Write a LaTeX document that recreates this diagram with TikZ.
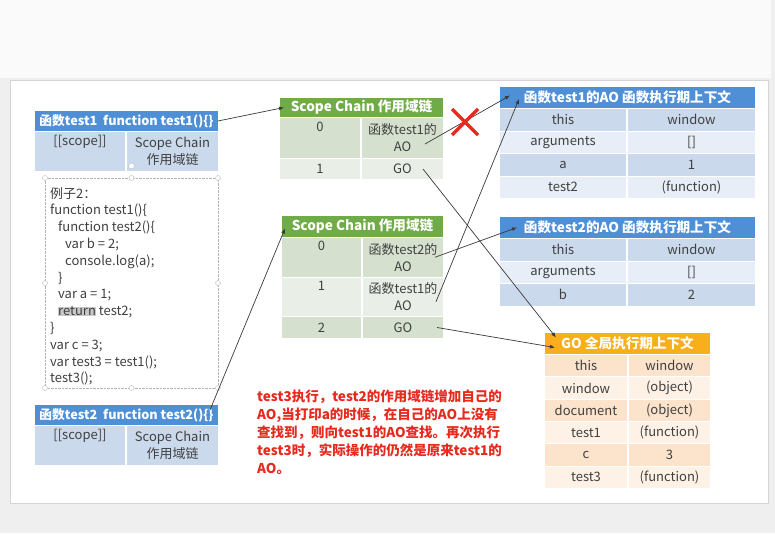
\documentclass[tikz,border=0pt]{standalone}
\usepackage{fontspec}
\setmainfont{Noto Sans CJK SC}
\usetikzlibrary{positioning,arrows.meta}
\definecolor{PageGray}{HTML}{EFEFEF}
\definecolor{TopWhite}{HTML}{FAFAFA}
\definecolor{FrameGray}{HTML}{D4D4D4}
\definecolor{HeadBlue}{HTML}{4E8FD6}
\definecolor{BlueDark}{HTML}{CBD9EC}
\definecolor{BlueLite}{HTML}{E7EEF7}
\definecolor{HeadGreen}{HTML}{6FAB46}
\definecolor{GreenDark}{HTML}{D5E1CE}
\definecolor{GreenLite}{HTML}{E9EFE6}
\definecolor{HeadOrange}{HTML}{F9AE1B}
\definecolor{OrangeDark}{HTML}{FCE3CB}
\definecolor{OrangeLite}{HTML}{FEF1E5}
\definecolor{CellText}{HTML}{404040}
\definecolor{NoteRed}{HTML}{E62A1E}
\definecolor{ArrowGray}{HTML}{3A3A3A}
\definecolor{HiGray}{HTML}{C8C8C8}
\newcommand\cellfont{\fontsize{13}{17}\selectfont}
\newcommand\hdfont{\fontsize{13.6}{16}\selectfont\bfseries}

\begin{document}
\begin{tikzpicture}[x=1pt, y=-1pt,
    node distance=1pt and 2pt,
    hd/.style={anchor=north west, inner sep=0pt, outer sep=0pt, text=white, font=\hdfont},
    bluehd/.style={hd, fill=HeadBlue},
    funchd/.style={bluehd, font=\fontsize{12.7}{16}\selectfont\bfseries},
    greenhd/.style={hd, fill=HeadGreen},
    orangehd/.style={hd, fill=HeadOrange},
    cellbox/.style={anchor=north west, inner sep=0pt, outer sep=0pt, align=center,
      text=CellText, font=\cellfont},
    bluedark/.style={cellbox, fill=BlueDark},
    bluelite/.style={cellbox, fill=BlueLite},
    greendark/.style={cellbox, fill=GreenDark},
    greenlite/.style={cellbox, fill=GreenLite},
    orangedark/.style={cellbox, fill=OrangeDark},
    orangelite/.style={cellbox, fill=OrangeLite},
    codebox/.style={anchor=north west, draw=gray!60, densely dotted, inner sep=0pt, outer sep=0pt},
    handle/.style={draw=gray!55, fill=white, thin},
    arr/.style={-{Latex[length=5pt,width=4pt]}, draw=ArrowGray, line width=0.7pt},
    xmark/.style={draw=NoteRed, line width=3.5pt}
  ]
    \useasboundingbox (0,0) rectangle (775,533);
    % page and slide
    \fill[PageGray] (0,0) rectangle (775,533);
    \fill[TopWhite] (0,0) rectangle (771,78);
    \draw[FrameGray, fill=white] (10,80) rectangle (768,503);

    % function test1
    \node[funchd, minimum width=183pt, minimum height=20pt] (f1hd) at (35,111) {函数test1\ \ function test1()\{\}};
    \node[bluedark, minimum width=90pt, minimum height=39pt, below=1pt of f1hd.south west, anchor=north west] (f1scope) {[[scope]]\\\strut};
    \node[bluedark, minimum width=91pt, minimum height=39pt, right=2pt of f1scope] (f1chain) {Scope Chain\\作用域链};

    % code of example 2
    \node[codebox, minimum width=173pt, minimum height=210pt] (code) at (45,178) {};
    \foreach \a in {north west,north,north east,east,south east,south,south west,west}
      \draw[handle] (code.\a) circle (2.5pt);
    \draw[handle] ([yshift=12pt]code.north) circle (3pt);
    \node[anchor=north west, inner sep=0pt, align=left, text=CellText,
      font=\fontsize{13}{16.8}\selectfont] (codetxt) at (50,187) {例子2：\\
      function test1()\{\\
      \hspace*{8pt}function test2()\{\\
      \hspace*{15pt}var b = 2;\\
      \hspace*{15pt}console.log(a);\\
      \hspace*{8pt}\}\\
      \hspace*{8pt}var a = 1;\\
      \hspace*{8pt}{\setlength\fboxsep{0pt}\colorbox{HiGray}{return}} test2;\\
      \}\\
      var c = 3;\\
      var test3 = test1();\\
      test3();};

    % function test2
    \node[funchd, minimum width=183pt, minimum height=20pt] (f2hd) at (35,405) {函数test2\ \ function test2()\{\}};
    \node[bluedark, minimum width=90pt, minimum height=39pt, below=1pt of f2hd.south west, anchor=north west] (f2scope) {[[scope]]\\\strut};
    \node[bluedark, minimum width=91pt, minimum height=39pt, right=2pt of f2scope] (f2chain) {Scope Chain\\作用域链};

    % scope chain of test1
    \node[greenhd, minimum width=163pt, minimum height=19pt] (sc1hd) at (280,98) {Scope Chain 作用域链};
    \node[greendark, minimum width=80pt, minimum height=40pt, below=1pt of sc1hd.south west, anchor=north west] (sc1n0) {0\\\strut};
    \node[greendark, minimum width=81pt, minimum height=40pt, right=2pt of sc1n0] (sc1v0) {函数test1的\\AO};
    \node[greenlite, minimum width=80pt, minimum height=20pt, below=1pt of sc1n0.south west, anchor=north west] (sc1n1) {1};
    \node[greenlite, minimum width=81pt, minimum height=20pt, right=2pt of sc1n1] (sc1v1) {GO};

    % scope chain of test2
    \node[greenhd, minimum width=161pt, minimum height=21pt] (sc2hd) at (282,216) {Scope Chain 作用域链};
    \node[greendark, minimum width=79pt, minimum height=38.5pt, below=1pt of sc2hd.south west, anchor=north west] (sc2n0) {0\\\strut};
    \node[greendark, minimum width=80pt, minimum height=38.5pt, right=2pt of sc2n0] (sc2v0) {函数test2的\\AO};
    \node[greenlite, minimum width=79pt, minimum height=38.5pt, below=1pt of sc2n0.south west, anchor=north west] (sc2n1) {1\\\strut};
    \node[greenlite, minimum width=80pt, minimum height=38.5pt, right=2pt of sc2n1] (sc2v1) {函数test1的\\AO};
    \node[greendark, minimum width=79pt, minimum height=21pt, below=1pt of sc2n1.south west, anchor=north west] (sc2n2) {2};
    \node[greendark, minimum width=80pt, minimum height=21pt, right=2pt of sc2n2] (sc2v2) {GO};

    % AO of test1
    \node[bluehd, minimum width=255pt, minimum height=21pt] (ao1hd) at (500,87) {函数test1的AO 函数执行期上下文};
    \node[bluedark, minimum width=126pt, minimum height=21.5pt, below=1pt of ao1hd.south west, anchor=north west] (ao1k1) {this};
    \node[bluedark, minimum width=127pt, minimum height=21.5pt, right=2pt of ao1k1] (ao1v1) {window};
    \node[bluelite, minimum width=126pt, minimum height=21.5pt, below=1pt of ao1k1.south west, anchor=north west] (ao1k2) {arguments};
    \node[bluelite, minimum width=127pt, minimum height=21.5pt, right=2pt of ao1k2] (ao1v2) {[]};
    \node[bluedark, minimum width=126pt, minimum height=21.5pt, below=1pt of ao1k2.south west, anchor=north west] (ao1k3) {a};
    \node[bluedark, minimum width=127pt, minimum height=21.5pt, right=2pt of ao1k3] (ao1v3) {1};
    \node[bluelite, minimum width=126pt, minimum height=21.5pt, below=1pt of ao1k3.south west, anchor=north west] (ao1k4) {test2};
    \node[bluelite, minimum width=127pt, minimum height=21.5pt, right=2pt of ao1k4] (ao1v4) {(function)};

    % AO of test2
    \node[bluehd, minimum width=255pt, minimum height=21pt] (ao2hd) at (500,217) {函数test2的AO 函数执行期上下文};
    \node[bluedark, minimum width=126pt, minimum height=21.5pt, below=1pt of ao2hd.south west, anchor=north west] (ao2k1) {this};
    \node[bluedark, minimum width=127pt, minimum height=21.5pt, right=2pt of ao2k1] (ao2v1) {window};
    \node[bluelite, minimum width=126pt, minimum height=21.5pt, below=1pt of ao2k1.south west, anchor=north west] (ao2k2) {arguments};
    \node[bluelite, minimum width=127pt, minimum height=21.5pt, right=2pt of ao2k2] (ao2v2) {[]};
    \node[bluedark, minimum width=126pt, minimum height=21.5pt, below=1pt of ao2k2.south west, anchor=north west] (ao2k3) {b};
    \node[bluedark, minimum width=127pt, minimum height=21.5pt, right=2pt of ao2k3] (ao2v3) {2};

    % GO
    \node[orangehd, minimum width=165pt, minimum height=21pt] (gohd) at (545,333) {GO 全局执行期上下文};
    \node[orangedark, minimum width=82pt, minimum height=21.3pt, below=1pt of gohd.south west, anchor=north west] (gok1) {this};
    \node[orangedark, minimum width=81pt, minimum height=21.3pt, right=2pt of gok1] (gov1) {window};
    \node[orangelite, minimum width=82pt, minimum height=21.3pt, below=1pt of gok1.south west, anchor=north west] (gok2) {window};
    \node[orangelite, minimum width=81pt, minimum height=21.3pt, right=2pt of gok2] (gov2) {(object)};
    \node[orangedark, minimum width=82pt, minimum height=21.3pt, below=1pt of gok2.south west, anchor=north west] (gok3) {document};
    \node[orangedark, minimum width=81pt, minimum height=21.3pt, right=2pt of gok3] (gov3) {(object)};
    \node[orangelite, minimum width=82pt, minimum height=21.3pt, below=1pt of gok3.south west, anchor=north west] (gok4) {test1};
    \node[orangelite, minimum width=81pt, minimum height=21.3pt, right=2pt of gok4] (gov4) {(function)};
    \node[orangedark, minimum width=82pt, minimum height=21.3pt, below=1pt of gok4.south west, anchor=north west] (gok5) {c};
    \node[orangedark, minimum width=81pt, minimum height=21.3pt, right=2pt of gok5] (gov5) {3};
    \node[orangelite, minimum width=82pt, minimum height=21.3pt, below=1pt of gok5.south west, anchor=north west] (gok6) {test3};
    \node[orangelite, minimum width=81pt, minimum height=21.3pt, right=2pt of gok6] (gov6) {(function)};

    % note
    \node[anchor=north west, inner sep=0pt, align=left, text=NoteRed,
      font=\fontsize{13.5}{17.8}\selectfont\bfseries] (note) at (257,390) {test3执行，test2的作用域链增加自己的\\
      AO,当打印a的时候，在自己的AO上没有\\
      查找到，则向test1的AO查找。再次执行\\
      test3时，实际操作的仍然是原来test1的\\
      AO。};

    % connectors
    \coordinate (f2out) at ([xshift=-8pt,yshift=-5pt]f2hd.north east);
    \coordinate (sc1ao) at ([xshift=-18pt,yshift=-6pt]sc1v0.east);
    \coordinate (sc1go) at ([xshift=-20pt]sc1v1.east);
    \coordinate (sc2ao2) at ([xshift=-8pt]sc2v0.east);
    \coordinate (sc2ao1) at ([xshift=-7pt,yshift=-5pt]sc2v1.east);
    \coordinate (sc2go) at ([xshift=-6pt]sc2v2.east);
    \draw[arr] (f1hd.east) -- ([xshift=4pt]sc1hd.west);
    \draw[arr] (f2out) -- ([xshift=3pt,yshift=-2pt]sc2hd.west);
    \draw[arr] (sc1ao) -- ([xshift=10pt,yshift=2pt]ao1hd.west);
    \draw[arr] (sc1go) -- ([xshift=11pt,yshift=6pt]gohd.west);
    \draw[arr] (sc2ao2) -- ([xshift=17pt]ao2hd.west);
    \draw[arr] (sc2ao1) -- ([xshift=19pt,yshift=-1.5pt]ao1hd.west);
    \draw[arr] (sc2go) -- ([xshift=10pt,yshift=-4pt]gohd.west);

    % broken link
    \draw[xmark] (452,109) -- (478,135) (478,109) -- (452,135);
\end{tikzpicture}
\end{document}
